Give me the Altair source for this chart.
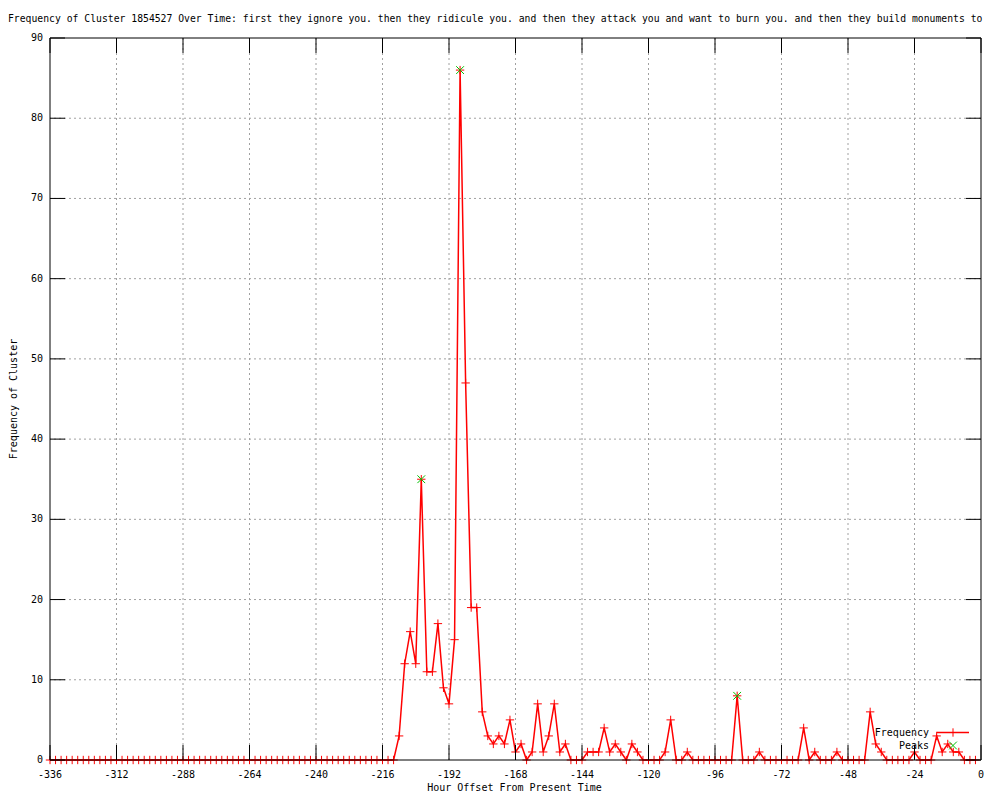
import altair as alt
import pandas as pd

# ---------------- text ----------------
TITLE = ("Frequency of Cluster 1854527 Over Time: first they ignore you. then they ridicule you. "
         "and then they attack you and want to burn you. and then they build monuments to")
X_TITLE = "Hour Offset From Present Time"
Y_TITLE = "Frequency of Cluster"
SERIES_NAMES = ["Frequency", "Peaks"]

# ---------------- data ----------------
hours = list(range(-336, 0, 2))  # one sample every 2 hours, -336 .. -2

frequency = [
    # -336 .. -218
    0, 0, 0, 0, 0, 0, 0, 0, 0, 0,
    0, 0, 0, 0, 0, 0, 0, 0, 0, 0,
    0, 0, 0, 0, 0, 0, 0, 0, 0, 0,
    0, 0, 0, 0, 0, 0, 0, 0, 0, 0,
    0, 0, 0, 0, 0, 0, 0, 0, 0, 0,
    0, 0, 0, 0, 0, 0, 0, 0, 0, 0,
    # -216
    0,
    # -214 .. -196
    0, 0, 3, 12, 16, 12, 35, 11, 11, 17,
    # -194 .. -176
    9, 7, 15, 86, 47, 19, 19, 6, 3, 2,
    # -174 .. -156
    3, 2, 5, 1, 2, 0, 1, 7, 1, 3,
    # -154 .. -136
    7, 1, 2, 0, 0, 0, 1, 1, 1, 4,
    # -134 .. -116
    1, 2, 1, 0, 2, 1, 0, 0, 0, 0,
    # -114 .. -96
    1, 5, 0, 0, 1, 0, 0, 0, 0, 0,
    # -94 .. -76
    0, 0, 0, 8, 0, 0, 0, 1, 0, 0,
    # -74 .. -56
    0, 0, 0, 0, 0, 4, 0, 1, 0, 0,
    # -54 .. -36
    0, 1, 0, 0, 0, 0, 0, 6, 2, 1,
    # -34 .. -16
    0, 0, 0, 0, 0, 1, 0, 0, 0, 3,
    # -14 .. -2
    1, 2, 1, 1, 0, 0, 0,
]

peak_hours = [-202, -188, -88]
peak_values = [35, 86, 8]

x_ticks = [-336, -312, -288, -264, -240, -216, -192, -168, -144, -120, -96, -72, -48, -24, 0]
y_ticks = [0, 10, 20, 30, 40, 50, 60, 70, 80, 90]

# ---------------- style ----------------
FONT = "DejaVu Sans Mono"
FS = 10
W, H = 931, 722
RED = "#ff0000"
GREEN = "#00c000"
GRID = "#a0a0a0"
PLUS = "M-1,0L1,0M0,-1L0,1"
CROSS = "M-1,-1L1,1M-1,1L1,-1"
TICK = 15

df = pd.DataFrame({"hour": hours, "freq": frequency})
peaks_df = pd.DataFrame({"hour": peak_hours, "freq": peak_values})
xt = pd.DataFrame({"t": x_ticks})
yt = pd.DataFrame({"t": y_ticks})
one = pd.DataFrame({"k": [0]})

xs = alt.Scale(domain=[x_ticks[0], x_ticks[-1]], nice=False, zero=False)
ys = alt.Scale(domain=[y_ticks[0], y_ticks[-1]], nice=False, zero=False)


def X(field):
    return alt.X(field, type="quantitative", scale=xs, axis=None)


def Y(field):
    return alt.Y(field, type="quantitative", scale=ys, axis=None)


grid_x = (
    alt.Chart(xt)
    .transform_filter(f"datum.t > {x_ticks[0]} && datum.t < {x_ticks[-1]}")
    .mark_rule(color=GRID, strokeDash=[2, 3], strokeWidth=1)
    .encode(x=X("t"))
)
grid_y = (
    alt.Chart(yt)
    .transform_filter(f"datum.t > {y_ticks[0]} && datum.t < {y_ticks[-1]}")
    .mark_rule(color=GRID, strokeDash=[2, 3], strokeWidth=1)
    .encode(y=Y("t"))
)

line = alt.Chart(df).mark_line(color=RED, strokeWidth=1.5).encode(x=X("hour"), y=Y("freq"))
points = alt.Chart(df).mark_point(
    shape=PLUS, filled=False, color=RED, strokeWidth=1, size=70, opacity=1
).encode(x=X("hour"), y=Y("freq"))
peaks = alt.Chart(peaks_df).mark_point(
    shape=CROSS, filled=False, color=GREEN, strokeWidth=1, size=60, opacity=1
).encode(x=X("hour"), y=Y("freq"))

frame = alt.Chart(one).mark_rect(fillOpacity=0, stroke="black", strokeWidth=1).encode(
    x=alt.value(0), x2=alt.value(W), y=alt.value(0), y2=alt.value(H)
)
ticks_bottom = alt.Chart(xt).mark_rule(color="black").encode(
    x=X("t"), y=alt.value(H), y2=alt.value(H - TICK)
)
ticks_top = alt.Chart(xt).mark_rule(color="black").encode(
    x=X("t"), y=alt.value(0), y2=alt.value(TICK)
)
ticks_left = alt.Chart(yt).mark_rule(color="black").encode(
    y=Y("t"), x=alt.value(0), x2=alt.value(TICK)
)
ticks_right = alt.Chart(yt).mark_rule(color="black").encode(
    y=Y("t"), x=alt.value(W - TICK), x2=alt.value(W)
)

# tick labels (plain hyphen minus, as in the reference)
x_labels = (
    alt.Chart(xt)
    .transform_calculate(label="'' + datum.t")
    .mark_text(align="center", baseline="middle", font=FONT, fontSize=FS, color="black")
    .encode(x=X("t"), y=alt.value(H + 14.5), text="label:N")
)
y_labels = (
    alt.Chart(yt)
    .transform_calculate(label="'' + datum.t")
    .mark_text(align="right", baseline="middle", font=FONT, fontSize=FS, color="black")
    .encode(y=Y("t"), x=alt.value(-7), text="label:N")
)
x_title = alt.Chart(one).mark_text(
    text=X_TITLE, align="center", baseline="middle", font=FONT, fontSize=FS, color="black"
).encode(x=alt.value(W / 2 - 1), y=alt.value(H + 28))
y_title = alt.Chart(one).mark_text(
    text=Y_TITLE, align="center", baseline="middle", font=FONT, fontSize=FS, color="black",
    angle=270,
).encode(x=alt.value(-36), y=alt.value(H / 2))

# legend (key) inside the plot, bottom right, gnuplot-style
leg_text_1 = alt.Chart(one).mark_text(
    text=SERIES_NAMES[0], align="right", baseline="middle", font=FONT, fontSize=FS, color="black"
).encode(x=alt.value(879), y=alt.value(695))
leg_line_1 = alt.Chart(one).mark_rule(color=RED, strokeWidth=1.5).encode(
    x=alt.value(887), x2=alt.value(919), y=alt.value(694.5)
)
leg_pt_1 = alt.Chart(one).mark_point(
    shape=PLUS, filled=False, color=RED, strokeWidth=1, size=70, opacity=1
).encode(x=alt.value(903), y=alt.value(694.5))
leg_text_2 = alt.Chart(one).mark_text(
    text=SERIES_NAMES[1], align="right", baseline="middle", font=FONT, fontSize=FS, color="black"
).encode(x=alt.value(879), y=alt.value(708))
leg_pt_2 = alt.Chart(one).mark_point(
    shape=CROSS, filled=False, color=GREEN, strokeWidth=1, size=60, opacity=1
).encode(x=alt.value(903), y=alt.value(707.5))

title = alt.Chart(one).mark_text(
    text=TITLE, align="left", baseline="middle", font=FONT, fontSize=9.75, color="black"
).encode(x=alt.value(-42), y=alt.value(-19))

chart = (
    alt.layer(
        grid_x, grid_y, line, points, peaks, frame,
        ticks_bottom, ticks_top, ticks_left, ticks_right,
        x_labels, y_labels, x_title, y_title,
        leg_text_1, leg_line_1, leg_pt_1, leg_text_2, leg_pt_2, title,
    )
    .properties(
        width=W, height=H,
        padding={"left": 42, "top": 30, "right": 11, "bottom": 32},
        autosize=alt.AutoSizeParams(type="none"),
        background="white",
    )
    .configure_view(strokeWidth=0)
)

chart.save("out.html", embed_options={"renderer": "svg", "actions": False})
